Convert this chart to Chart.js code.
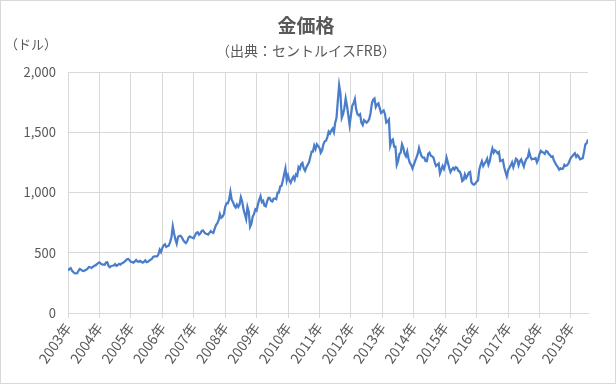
<!DOCTYPE html>
<html lang="ja">
<head>
  <meta charset="UTF-8">
  <title>金価格</title>
  <script src="https://cdn.jsdelivr.net/npm/chart.js"></script>
  <style>
    body {
      margin: 0;
      background: #fff;
    }
    .frame {
      width: 616px;
      height: 384px;
      box-sizing: border-box;
      border: 1px solid #d9d9d9;
      position: relative;
    }
  </style>
</head>
<body>
  <div class="frame">
    <canvas id="goldChart" width="614" height="382"></canvas>
  </div>

  <script>
    const chartTitle = '金価格';
    const chartSubtitle = '（出典：セントルイスFRB）';
    const unitLabel = '（ドル）';

    // half-monthly prices (USD), first half / second half of each month
    const startYear = 2003;
    const pointsPerYear = 24;
    const prices = [
      // 2003
      352, 365, 372, 352, 340, 330, 328, 330, 350, 365, 360, 350,
      348, 355, 358, 370, 382, 380, 374, 383, 392, 395, 405, 414,
      // 2004
      420, 410, 403, 402, 400, 418, 420, 390, 380, 390, 392, 395,
      405, 392, 398, 408, 402, 412, 417, 425, 435, 445, 448, 438,
      // 2005
      425, 422, 418, 428, 440, 428, 425, 432, 425, 418, 425, 437,
      422, 425, 435, 442, 448, 465, 470, 470, 470, 485, 525, 505,
      // 2006
      540, 560, 570, 548, 555, 560, 590, 630, 720, 660, 610, 575,
      630, 640, 640, 625, 605, 590, 580, 595, 625, 635, 628, 625,
      // 2007
      620, 645, 665, 670, 650, 660, 680, 685, 670, 660, 655, 650,
      665, 680, 670, 665, 700, 730, 745, 770, 820, 790, 800, 820,
      // 2008
      880, 910, 910, 940, 1005, 940, 920, 890, 875, 900, 880, 900,
      960, 925, 860, 820, 780, 880, 840, 715, 740, 800, 820, 860,
      // 2009
      850, 900, 940, 970, 920, 930, 890, 885, 925, 955, 955, 930,
      925, 950, 950, 945, 1000, 1000, 1050, 1055, 1100, 1150, 1200, 1100,
      // 2010
      1140, 1100, 1080, 1110, 1130, 1105, 1150, 1140, 1210, 1195, 1235, 1245,
      1200, 1180, 1210, 1230, 1250, 1295, 1340, 1340, 1390, 1360, 1400, 1385,
      // 2011
      1370, 1330, 1350, 1400, 1425, 1430, 1460, 1505, 1490, 1515, 1530, 1500,
      1580, 1620, 1760, 1890, 1820, 1620, 1650, 1700, 1780, 1720, 1640, 1560,
      // 2012
      1640, 1720, 1740, 1775, 1690, 1650, 1640, 1650, 1580, 1560, 1600, 1590,
      1580, 1590, 1610, 1660, 1740, 1770, 1780, 1710, 1730, 1740, 1700, 1660,
      // 2013
      1670, 1680, 1650, 1580, 1590, 1605, 1390, 1430, 1440, 1380, 1380, 1230,
      1260, 1320, 1330, 1400, 1370, 1320, 1300, 1340, 1280, 1245, 1230, 1200,
      // 2014
      1230, 1260, 1290, 1320, 1370, 1330, 1300, 1290, 1290, 1260, 1260, 1320,
      1330, 1305, 1300, 1290, 1250, 1220, 1230, 1240, 1160, 1190, 1220, 1195,
      // 2015
      1230, 1290, 1250, 1205, 1170, 1190, 1205, 1190, 1210, 1205, 1180, 1175,
      1150, 1095, 1105, 1150, 1120, 1140, 1165, 1170, 1085, 1070, 1065, 1075,
      // 2016
      1090, 1100, 1190, 1230, 1260, 1220, 1240, 1255, 1280, 1230, 1260, 1320,
      1365, 1330, 1350, 1340, 1325, 1335, 1260, 1265, 1270, 1210, 1170, 1135,
      // 2017
      1185, 1205, 1225, 1250, 1210, 1245, 1280, 1270, 1225, 1260, 1275, 1245,
      1215, 1255, 1280, 1290, 1340, 1300, 1275, 1280, 1280, 1285, 1250, 1275,
      // 2018
      1320, 1345, 1335, 1330, 1320, 1345, 1340, 1320, 1310, 1295, 1300, 1265,
      1245, 1225, 1210, 1190, 1200, 1195, 1200, 1230, 1220, 1225, 1240, 1265,
      // 2019
      1290, 1300, 1315, 1325, 1295, 1310, 1295, 1275, 1280, 1285, 1340, 1400,
      1410, 1440
    ];

    const yTicks = [0, 500, 1000, 1500, 2000];

    const points = prices.map((v, i) => ({ x: startYear + i / pointsPerYear, y: v }));

    const textColor = '#595959';
    const gridColor = '#d9d9d9';
    const fontFamily = "'Noto Sans CJK JP', 'Noto Sans', sans-serif";

    // title, subtitle and unit label drawn at fixed places
    const headerText = {
      id: 'headerText',
      afterDraw(chart) {
        const ctx = chart.ctx;
        ctx.save();
        ctx.fillStyle = textColor;
        ctx.textBaseline = 'middle';
        ctx.textAlign = 'center';
        ctx.font = 'bold 19px ' + fontFamily;
        ctx.fillText(chartTitle, 305, 25);
        ctx.font = '14px ' + fontFamily;
        ctx.fillText(chartSubtitle, 305, 50);
        ctx.font = '13px ' + fontFamily;
        ctx.textAlign = 'left';
        ctx.fillText(unitLabel, 4, 43);
        ctx.restore();
      }
    };

    new Chart(document.getElementById('goldChart'), {
      type: 'line',
      data: {
        datasets: [{
          data: points,
          borderColor: '#4a7ecb',
          borderWidth: 2.25,
          pointRadius: 0,
          tension: 0,
          fill: false
        }]
      },
      options: {
        responsive: false,
        animation: false,
        layout: {
          padding: { top: 71, right: 27, left: 0, bottom: 0 }
        },
        plugins: {
          legend: { display: false },
          tooltip: { enabled: false }
        },
        scales: {
          x: {
            type: 'linear',
            min: startYear,
            max: startYear + (prices.length - 1) / pointsPerYear,
            afterFit(scale) { scale.height = 70; },
            grid: { color: gridColor, tickLength: 5 },
            border: { color: gridColor },
            ticks: {
              stepSize: 1,
              includeBounds: false,
              minRotation: 55,
              maxRotation: 55,
              autoSkip: false,
              padding: 2,
              color: textColor,
              font: { family: fontFamily, size: 14 },
              callback: (v) => v + '年'
            }
          },
          y: {
            min: yTicks[0],
            max: yTicks[yTicks.length - 1],
            afterFit(scale) { scale.width = 67; },
            afterBuildTicks(scale) { scale.ticks = yTicks.map(v => ({ value: v })); },
            grid: { color: gridColor, drawTicks: false },
            border: { display: false },
            ticks: {
              padding: 12,
              color: textColor,
              font: { family: fontFamily, size: 13 },
              callback: (v) => v.toLocaleString('en-US')
            }
          }
        }
      },
      plugins: [headerText]
    });
  </script>
</body>
</html>
